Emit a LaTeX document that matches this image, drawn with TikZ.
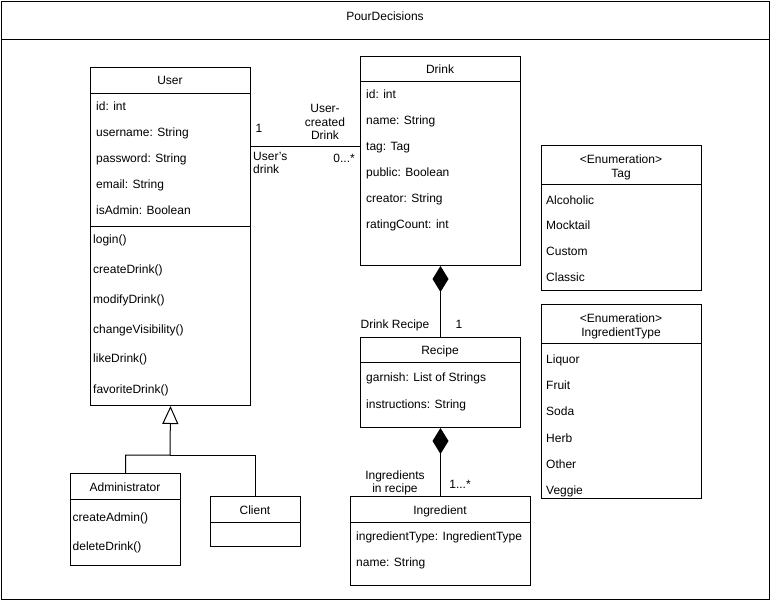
\documentclass[tikz,border=0pt]{standalone}
\usepackage{fontspec}
\setmainfont{Liberation Sans}
\usetikzlibrary{arrows.meta}
\begin{document}
\begin{tikzpicture}[x=1pt,y=-1pt,
  every node/.style={font=\fontsize{12}{13.5}\selectfont},
  box/.style={draw, line width=1pt, inner sep=0pt, anchor=north west},
  attr/.style={anchor=base west, inner sep=0pt, yshift=-1pt},
  ctr/.style={anchor=base, inner sep=0pt, yshift=-1pt},
  multi/.style={inner sep=0pt, align=center, yshift=-1pt},
  conn/.style={line width=1pt},
  sep/.style={line width=1pt},
  compo/.style={conn, -{Diamond[length=26pt,width=16pt]}},
  gener/.style={conn, -{Triangle[open,length=18pt,width=16pt,fill=white]}}]
\useasboundingbox (0,0) rectangle (771,601);
% outer frame
\node[box, minimum width=768pt, minimum height=598pt] (frame) at (1,1) {};
\draw[sep] (frame.west |- 0,40) -- (frame.east |- 0,40);
\node[ctr] (title) at (385,20) {PourDecisions};

% User
\node[box, minimum width=160pt, minimum height=338pt] (user) at (90,67) {};
\draw[sep] (user.west |- 0,94) -- (user.east |- 0,94);
\draw[sep] (user.west |- 0,227) -- (user.east |- 0,227);
\node[ctr] (userh) at (170,84) {User};
\node[attr] (u1) at (96,110) {id: int};
\node[attr] (u2) at (96,136) {username: String};
\node[attr] (u3) at (96,162) {password: String};
\node[attr] (u4) at (96,188) {email: String};
\node[attr] (u5) at (96,214) {isAdmin: Boolean};
\node[attr] (um1) at (93,243) {login()};
\node[attr] (um2) at (93,273) {createDrink()};
\node[attr] (um3) at (93,303) {modifyDrink()};
\node[attr] (um4) at (93,333) {changeVisibility()};
\node[attr] (um5) at (93,362) {likeDrink()};
\node[attr] (um6) at (93,392) {favoriteDrink()};

% Drink
\node[box, minimum width=160pt, minimum height=209pt] (drink) at (360,56) {};
\draw[sep] (drink.west |- 0,82) -- (drink.east |- 0,82);
\node[ctr] (drinkh) at (440,73) {Drink};
\node[attr] (d1) at (366,98) {id: int};
\node[attr] (d2) at (366,124) {name: String};
\node[attr] (d3) at (366,150) {tag: Tag};
\node[attr] (d4) at (366,176) {public: Boolean};
\node[attr] (d5) at (366,202) {creator: String};
\node[attr] (d6) at (366,228) {ratingCount: int};

% Recipe
\node[box, minimum width=160pt, minimum height=90pt] (recipe) at (360,337) {};
\draw[sep] (recipe.west |- 0,363) -- (recipe.east |- 0,363);
\node[ctr] (recipeh) at (440,354) {Recipe};
\node[attr] (r1) at (366,381) {garnish: List of Strings};
\node[attr] (r2) at (366,407) {instructions: String};

% Ingredient
\node[box, minimum width=180pt, minimum height=89pt] (ingr) at (350,496) {};
\draw[sep] (ingr.west |- 0,522) -- (ingr.east |- 0,522);
\node[ctr] (ingrh) at (440,513) {Ingredient};
\node[attr] (i1) at (356,539) {ingredientType: IngredientType};
\node[attr] (i2) at (356,565) {name: String};

% Tag enumeration
\node[box, minimum width=160pt, minimum height=145pt] (tag) at (541,145) {};
\draw[sep] (tag.west |- 0,185) -- (tag.east |- 0,185);
\node[multi] (tagh) at (621,166.5) {<Enumeration>\\Tag};
\node[attr] (t1) at (546,204) {Alcoholic};
\node[attr] (t2) at (546,229) {Mocktail};
\node[attr] (t3) at (546,255) {Custom};
\node[attr] (t4) at (546,281) {Classic};

% IngredientType enumeration
\node[box, minimum width=160pt, minimum height=194pt] (itype) at (541,304) {};
\draw[sep] (itype.west |- 0,343.5) -- (itype.east |- 0,343.5);
\node[multi] (itypeh) at (621,325.5) {<Enumeration>\\IngredientType};
\node[attr] (it1) at (546,363) {Liquor};
\node[attr] (it2) at (546,389) {Fruit};
\node[attr] (it3) at (546,415) {Soda};
\node[attr] (it4) at (546,441) {Herb};
\node[attr] (it5) at (546,467) {Other};
\node[attr] (it6) at (546,493) {Veggie};

% Administrator
\node[box, minimum width=110pt, minimum height=92pt] (admin) at (70,473) {};
\draw[sep] (admin.west |- 0,499) -- (admin.east |- 0,499);
\node[ctr] (adminh) at (125,490) {Administrator};
\node[attr] (a1) at (72.5,520) {createAdmin()};
\node[attr] (a2) at (72.5,549) {deleteDrink()};

% Client
\node[box, minimum width=90pt, minimum height=50pt] (client) at (210,496) {};
\draw[sep] (client.west |- 0,522) -- (client.east |- 0,522);
\node[ctr] (clienth) at (255,513) {Client};

% association User - Drink
\draw[conn] (user.east |- 0,147) -- (drink.west |- 0,147);
\node[ctr] (m1) at (259,132) {1};
\node[multi] (assoc) at (325,121) {User-\\created\\Drink};
\node[multi, anchor=west, align=left] (assoc2) at (253,162) {User's\\drink};
\node[inner sep=0pt, anchor=base east, yshift=-1pt] (m2) at (355,162) {0...*};

% composition Drink - Recipe
\draw[compo] (recipe.north) -- (drink.south);
\node[ctr] (c1) at (395,328) {Drink Recipe};
\node[ctr] (c1m) at (459,328) {1};

% composition Recipe - Ingredient
\draw[compo] (ingr.north) -- (recipe.south);
\node[multi] (c2) at (395,482) {Ingredients\\in recipe};
\node[ctr] (c2m) at (460,487) {1...*};

% generalisation
\coordinate (gen) at (170,455);
\draw[gener] (admin.north) |- (gen) -- (user.south);
\draw[conn] (client.north) |- (gen);
\end{tikzpicture}
\end{document}
